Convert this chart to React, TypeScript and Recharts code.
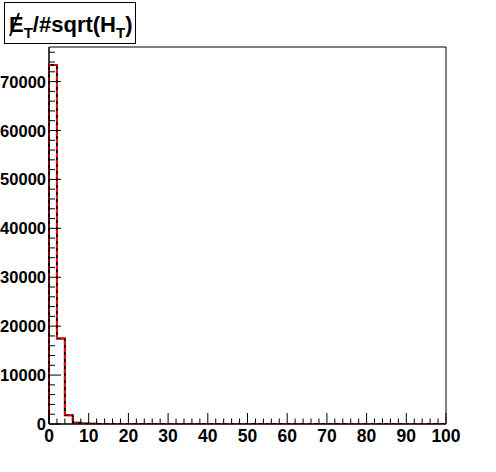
import React from 'react';
import { ComposedChart, Line, XAxis, YAxis, ReferenceArea } from 'recharts';

// bin low edges (2 units wide) and counts
const binEdges = [
  0, 2, 4, 6, 8, 10, 12, 14, 16, 18, 20, 22, 24, 26, 28, 30, 32, 34, 36, 38,
  40, 42, 44, 46, 48, 50, 52, 54, 56, 58, 60, 62, 64, 66, 68, 70, 72, 74, 76, 78,
  80, 82, 84, 86, 88, 90, 92, 94, 96, 98, 100,
];
const counts = [
  73400, 17500, 1780, 280, 90, 40, 22, 14, 9, 6, 5, 4, 3, 3, 2, 2, 1, 1, 1, 1,
  1, 1, 0, 1, 0, 0, 1, 0, 0, 0, 0, 0, 0, 0, 0, 0, 0, 0, 0, 0,
  0, 0, 0, 0, 0, 0, 0, 0, 0, 0,
];
const xTicks = [
  0, 2, 4, 6, 8, 10, 12, 14, 16, 18, 20, 22, 24, 26, 28, 30, 32, 34, 36, 38,
  40, 42, 44, 46, 48, 50, 52, 54, 56, 58, 60, 62, 64, 66, 68, 70, 72, 74, 76, 78,
  80, 82, 84, 86, 88, 90, 92, 94, 96, 98, 100,
];
const yTicks = [
  0, 2000, 4000, 6000, 8000, 10000, 12000, 14000, 16000, 18000, 20000, 22000,
  24000, 26000, 28000, 30000, 32000, 34000, 36000, 38000, 40000, 42000, 44000,
  46000, 48000, 50000, 52000, 54000, 56000, 58000, 60000, 62000, 64000, 66000,
  68000, 70000, 72000, 74000, 76000,
];
const Y_MAX = 77070;

const FONT = '"Liberation Sans", Arial, Helvetica, sans-serif';

// step points: rise at x=0, then each bin level, closing at x=100
const data = [
  { x: binEdges[0], y: 0 },
  ...counts.map((c, i) => ({ x: binEdges[i], y: c })),
  { x: binEdges[binEdges.length - 1], y: counts[counts.length - 1] },
];

const XTick = (props: any) => {
  const { x, y, payload } = props;
  const major = payload.value % 10 === 0;
  return (
    <g>
      <line x1={x} x2={x} y1={y} y2={y - (major ? 11 : 5.5)} stroke="#000" />
      {major && (
        <text x={x} y={y + 18} textAnchor="middle" fontFamily={FONT} fontWeight="bold" fontSize={17.5} fill="#000">
          {payload.value}
        </text>
      )}
    </g>
  );
};

const YTick = (props: any) => {
  const { x, y, payload } = props;
  const major = payload.value % 10000 === 0;
  return (
    <g>
      <line x1={x} x2={x + (major ? 12 : 6)} y1={y} y2={y} stroke="#000" />
      {major && (
        <text x={x - 3} y={y + 6} textAnchor="end" fontFamily={FONT} fontWeight="bold" fontSize={16.5} fill="#000">
          {payload.value}
        </text>
      )}
    </g>
  );
};

const App: React.FC = () => {
  return (
    <div style={{ position: 'absolute', left: 0, top: 0, width: 496, height: 472, background: '#fff' }}>
      <ComposedChart width={496} height={472} data={data} margin={{ top: 47, right: 50, bottom: 0, left: 0 }}>
        <XAxis
          dataKey="x"
          type="number"
          domain={[0, 100]}
          ticks={xTicks}
          interval={0}
          height={48}
          tickSize={0}
          tickMargin={0}
          tickLine={false}
          axisLine={{ stroke: '#000' }}
          tick={<XTick />}
        />
        <YAxis
          type="number"
          domain={[0, Y_MAX]}
          ticks={yTicks}
          interval={0}
          width={49}
          tickSize={0}
          tickMargin={0}
          tickLine={false}
          axisLine={{ stroke: '#000' }}
          tick={<YTick />}
          allowDataOverflow
        />
        <ReferenceArea x1={0} x2={100} y1={0} y2={Y_MAX} fill="none" stroke="#000" strokeWidth={1} />
        <Line
          dataKey="y"
          type="stepAfter"
          stroke="#000"
          strokeWidth={2}
          dot={false}
          isAnimationActive={false}
        />
        <Line
          dataKey="y"
          type="stepAfter"
          stroke="#ff0000"
          strokeWidth={2}
          strokeDasharray="4 3"
          dot={false}
          isAnimationActive={false}
        />
      </ComposedChart>
      <svg width={140} height={48} style={{ position: 'absolute', left: 0, top: 0 }}>
        <rect x={4.5} y={2.5} width={131} height={41} fill="#fff" stroke="#000" />
        <text x={9} y={32} fontFamily={FONT} fontWeight="bold" fontSize={22} fill="#000">
          E
          <tspan fontSize={15} dy={6}>T</tspan>
          <tspan dy={-6}>/#sqrt(H</tspan>
          <tspan fontSize={15} dy={6}>T</tspan>
          <tspan dy={-6}>)</tspan>
        </text>
        <line x1={10} y1={36} x2={19} y2={13} stroke="#000" strokeWidth={2} />
      </svg>
    </div>
  );
};

export default App;
